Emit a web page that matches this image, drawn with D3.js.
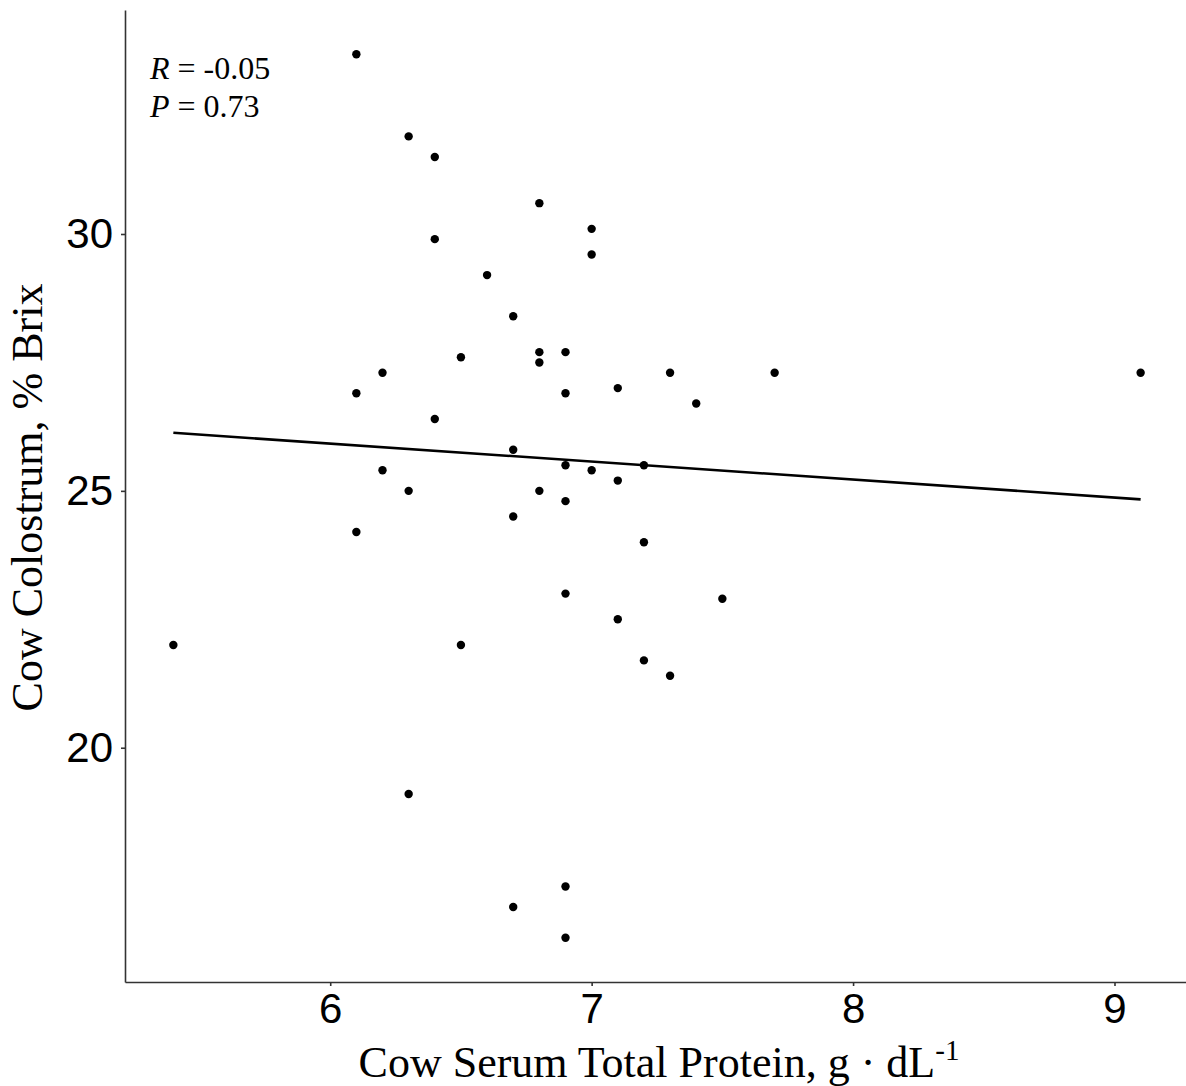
<!DOCTYPE html>
<html>
<head>
<meta charset="utf-8">
<script src="https://cdn.jsdelivr.net/npm/d3@7"></script>
<style>
  html, body { margin: 0; padding: 0; background: #fff; }
  svg { display: block; }
</style>
</head>
<body>
<svg id="chart" width="1186" height="1086"></svg>
<script>
// ---- Data ----
const serumTP = [6.1, 6.3, 6.4, 6.8, 7.0, 7.0, 6.4, 6.6, 6.7, 6.8, 6.9, 6.8, 6.5, 6.2, 6.1,
                 6.4, 6.9, 7.1, 7.3, 7.4, 7.7, 9.1, 6.7, 6.2, 6.3, 6.8, 6.9, 6.9, 7.0, 7.1,
                 7.2, 6.7, 6.1, 7.2, 6.9, 7.5, 7.1, 5.4, 6.5, 7.2, 7.3, 6.3, 6.9, 6.7, 6.9];
const brix    = [33.5, 31.9, 31.5, 30.6, 30.1, 29.6, 29.9, 29.2, 28.4, 27.7, 27.7, 27.5, 27.6, 27.3, 26.9,
                 26.4, 26.9, 27.0, 27.3, 26.7, 27.3, 27.3, 25.8, 25.4, 25.0, 25.0, 25.5, 24.8, 25.4, 25.2,
                 25.5, 24.5, 24.2, 24.0, 23.0, 22.9, 22.5, 22.0, 22.0, 21.7, 21.4, 19.1, 17.3, 16.9, 16.3];
const xTicks = [6, 7, 8, 9];
const yTicks = [20, 25, 30];
const statR = "-0.05";
const statP = "0.73";

// ---- Layout ----
const svg = d3.select("#chart");
const pLeft = 125, pRight = 1189, pTop = 10, pBottom = 982;

function expand(ext) { const r = ext[1] - ext[0]; return [ext[0] - 0.05 * r, ext[1] + 0.05 * r]; }
const x = d3.scaleLinear().domain(expand(d3.extent(serumTP))).range([pLeft, pRight]);
const y = d3.scaleLinear().domain(expand(d3.extent(brix))).range([pBottom, pTop]);

// ---- Points ----
const pts = serumTP.map((v, i) => ({ x: v, y: brix[i] }));
svg.append("g").selectAll("circle").data(pts).join("circle")
  .attr("cx", d => x(d.x)).attr("cy", d => y(d.y)).attr("r", 4.2).attr("fill", "#000");

// ---- Linear regression line ----
const mx = d3.mean(serumTP), my = d3.mean(brix);
let sxy = 0, sxx = 0;
pts.forEach(d => { sxy += (d.x - mx) * (d.y - my); sxx += (d.x - mx) * (d.x - mx); });
const slope = sxy / sxx, intercept = my - slope * mx;
const xr = d3.extent(serumTP);
const linePts = xr.map(v => ({ x: v, y: intercept + slope * v }));
svg.append("path").datum(linePts)
  .attr("d", d3.line().x(d => x(d.x)).y(d => y(d.y)))
  .attr("fill", "none").attr("stroke", "#000").attr("stroke-width", 2.6);

// ---- Axes ----
const xAxis = svg.append("g").attr("transform", `translate(0,${pBottom})`)
  .call(d3.axisBottom(x).tickValues(xTicks).tickFormat(d3.format("d"))
        .tickSize(4).tickPadding(7).tickSizeOuter(0));
const yAxis = svg.append("g").attr("transform", `translate(${pLeft},0)`)
  .call(d3.axisLeft(y).tickValues(yTicks).tickFormat(d3.format("d"))
        .tickSize(4).tickPadding(8).tickSizeOuter(0));
[xAxis, yAxis].forEach(g => {
  g.select(".domain").attr("stroke", "#333").attr("stroke-width", 1.6);
  g.selectAll(".tick line").attr("stroke", "#333").attr("stroke-width", 1.6);
  g.selectAll(".tick text").attr("fill", "#000")
    .style("font-family", "'Liberation Sans', Arial, sans-serif").style("font-size", "42px");
});

// ---- Axis titles ----
const xt = svg.append("text")
  .attr("x", (362 + 956) / 2).attr("y", 1077)
  .attr("text-anchor", "middle")
  .style("font-family", "'Liberation Serif', 'Times New Roman', serif")
  .style("font-size", "44px").attr("fill", "#000");
xt.append("tspan").text("Cow Serum Total Protein, g \u00B7 dL");
xt.append("tspan").attr("dy", -17).style("font-size", "29px").text("-1");

svg.append("text")
  .attr("transform", `translate(42,${(283 + 712) / 2}) rotate(-90)`)
  .attr("text-anchor", "middle")
  .style("font-family", "'Liberation Serif', 'Times New Roman', serif")
  .style("font-size", "44px").attr("fill", "#000")
  .text("Cow Colostrum, % Brix");

// ---- Annotation ----
const ann = svg.append("g")
  .style("font-family", "'Liberation Serif', 'Times New Roman', serif")
  .style("font-size", "32px").attr("fill", "#000");
const t1 = ann.append("text").attr("x", 150).attr("y", 79);
t1.append("tspan").style("font-style", "italic").text("R");
t1.append("tspan").text(" = " + statR);
const t2 = ann.append("text").attr("x", 150).attr("y", 117);
t2.append("tspan").style("font-style", "italic").text("P");
t2.append("tspan").text(" = " + statP);
</script>
</body>
</html>
